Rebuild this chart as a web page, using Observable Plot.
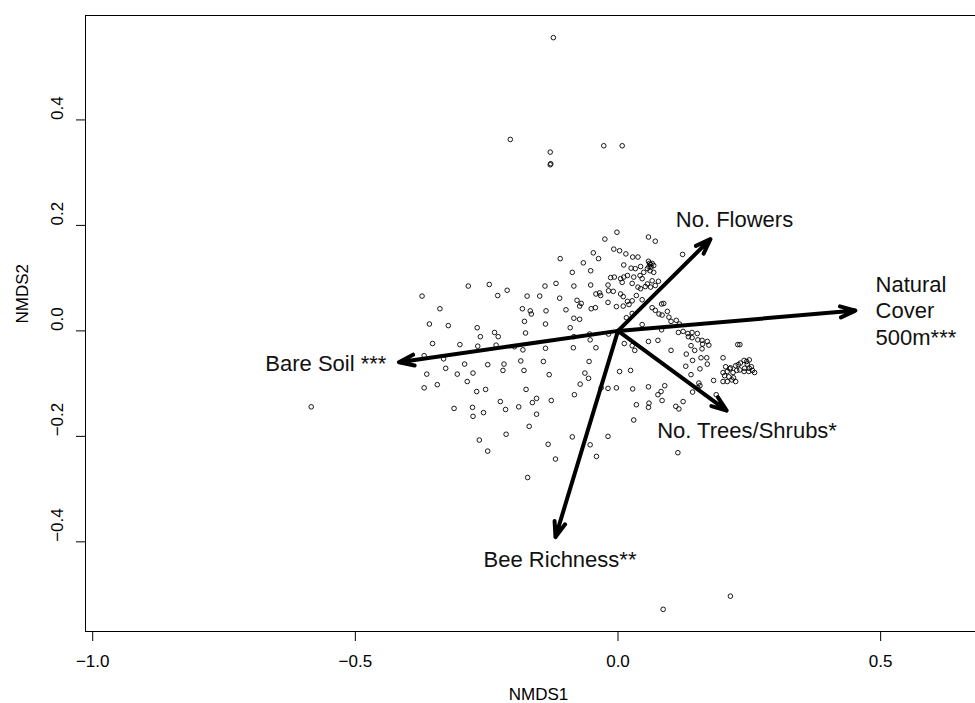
<!DOCTYPE html>
<html><head><meta charset="utf-8">
<script src="https://cdn.jsdelivr.net/npm/d3@7"></script>
<script src="https://cdn.jsdelivr.net/npm/@observablehq/plot@0.6"></script>
<style>
html,body{margin:0;padding:0;background:#fff;}
#chart svg{display:block;}
</style></head><body><div id="chart"></div>
<script>
// Axis settings
const xDomain = [-1.0137, 0.6806];
const yDomain = [-0.570, 0.598];
const xTicks = [-1, -0.5, 0, 0.5];
const yTicks = [-0.4, -0.2, 0, 0.2, 0.4];
const xTitle = "NMDS1";
const yTitle = "NMDS2";

// Site scores (NMDS1, NMDS2)
const sitesWest = [
[-0.373,0.066],[-0.285,0.085],[-0.245,0.088],[-0.229,0.067],[-0.211,0.077],[-0.339,0.042],[-0.359,0.013],[-0.323,0.010],
[-0.353,-0.024],[-0.369,-0.047],[-0.332,-0.053],[-0.301,-0.026],[-0.268,0.006],[-0.262,-0.011],[-0.267,-0.029],[-0.235,-0.003],
[-0.228,-0.011],[-0.232,-0.027],[-0.328,-0.071],[-0.364,-0.082],[-0.369,-0.108],[-0.344,-0.102],[-0.306,-0.082],[-0.292,-0.063],
[-0.276,-0.080],[-0.287,-0.096],[-0.248,-0.064],[-0.217,-0.063],[-0.219,-0.075],[-0.269,-0.115],[-0.252,-0.111],[-0.312,-0.147],
[-0.277,-0.145],[-0.276,-0.162],[-0.256,-0.155],[-0.224,-0.134],[-0.214,-0.149],[-0.189,-0.144],[-0.163,-0.136],[-0.155,-0.128],
[-0.175,-0.111],[-0.127,-0.132],[-0.155,-0.158],[-0.169,-0.181],[-0.213,-0.196],[-0.264,-0.207],[-0.248,-0.228],[-0.133,-0.215],
[-0.119,-0.243],[-0.087,-0.201],[-0.053,-0.216],[-0.041,-0.238],[-0.072,-0.101],[-0.083,-0.121],[-0.063,-0.080],[-0.056,-0.090],
[-0.055,-0.058],[-0.185,-0.057],[-0.179,-0.075],[-0.142,-0.058],[-0.131,-0.083],[-0.197,-0.030],[-0.181,-0.036],[-0.138,-0.033],
[-0.085,-0.032],[-0.042,-0.032],[-0.176,-0.004],[-0.178,0.018],[-0.138,0.013],[-0.091,0.006],[-0.084,0.024],[-0.073,0.022],
[-0.099,0.040],[-0.137,0.038],[-0.182,0.042],[-0.167,0.038],[-0.165,0.032],[-0.173,0.066],[-0.149,0.066],[-0.111,0.062],
[-0.139,0.085],[-0.118,0.090],[-0.084,0.085],[-0.052,0.087],[-0.078,0.058],[-0.070,0.052],[-0.073,0.047],[-0.051,0.042],
[-0.043,0.044],[-0.042,0.070],[-0.035,0.072],[-0.054,-0.006],[-0.053,-0.017],[-0.084,-0.011],[-0.172,-0.278],[-0.032,-0.108],
[-0.066,0.129],[-0.047,0.148],[-0.087,0.111],[-0.110,0.137],[-0.052,0.114],[-0.037,0.137]
];
const sitesUpper = [
[-0.002,0.187],[-0.025,0.174],[0.058,0.178],[0.071,0.170],[-0.008,0.155],[0.003,0.152],[0.015,0.146],[0.028,0.140],
[0.038,0.140],[0.123,0.145],[0.011,0.125],[0.058,0.132],[0.060,0.128],[0.062,0.126],[0.059,0.122],[0.056,0.118],
[0.061,0.114],[0.063,0.121],[0.065,0.128],[0.025,0.119],[0.033,0.118],[0.043,0.122],[0.068,0.124],[0.049,0.111],
[0.042,0.105],[-0.014,0.101],[-0.007,0.102],[0.011,0.102],[0.018,0.105],[0.005,0.099],[0.030,0.102],[0.046,0.099],
[0.068,0.111],[0.077,0.094],[0.065,0.095],[0.056,0.089],[-0.019,0.087],[0.008,0.092],[0.027,0.090],[0.038,0.083],
[0.043,0.080],[0.052,0.084],[0.062,0.083],[0.071,0.086],[-0.018,0.076],[-0.009,0.075],[0.005,0.070],[0.010,0.065],
[0.035,0.067],[0.046,0.059],[-0.033,0.067],[0.018,0.056],[0.027,0.057]
];
const sitesEast = [
[-0.019,0.054],[-0.003,0.046],[0.010,0.047],[0.021,0.050],[0.065,0.044],[0.071,0.039],[0.078,0.032],[0.084,0.030],
[0.083,0.051],[0.087,0.052],[0.094,0.037],[0.097,0.026],[0.101,0.018],[0.111,0.020],[0.117,0.013],[0.016,0.025],
[0.027,0.033],[0.046,0.012],[0.083,0.002],[0.115,-0.003],[0.124,-0.001],[0.133,-0.005],[0.141,-0.003],[0.151,-0.005],
[0.134,-0.011],[0.141,-0.013],[0.152,-0.017],[0.160,-0.018],[0.170,-0.020],[0.161,-0.025],[0.173,-0.027],[0.139,-0.028],
[0.146,-0.037],[0.160,-0.034],[0.130,-0.044],[0.142,-0.056],[0.158,-0.051],[0.169,-0.051],[0.170,-0.063],[0.156,-0.072],
[0.101,-0.037],[0.058,-0.020],[0.076,-0.018],[0.012,-0.024],[0.027,-0.028],[0.032,-0.037],[0.129,-0.067],[0.139,-0.083],
[-0.018,-0.006],[0.003,-0.077],[0.024,-0.075],[-0.019,-0.109],[-0.003,-0.108],[0.028,-0.110],[0.058,-0.106],[0.089,-0.104],
[0.082,-0.115],[0.076,-0.121],[0.084,-0.132],[0.035,-0.140],[0.059,-0.137],[0.058,-0.145],[0.110,-0.143],[0.116,-0.148],
[0.124,-0.134],[0.142,-0.116],[0.154,-0.099],[0.156,-0.104],[0.152,-0.108],[0.182,-0.094],[0.187,-0.121],[0.200,-0.051],
[0.228,-0.026],[0.232,-0.026],[0.030,-0.169],[-0.019,-0.200],[0.114,-0.231]
];
const sitesCluster = [
[0.205,-0.068],[0.214,-0.070],[0.224,-0.066],[0.229,-0.064],[0.233,-0.061],[0.240,-0.056],[0.245,-0.058],[0.250,-0.055],
[0.246,-0.063],[0.254,-0.068],[0.260,-0.079],[0.256,-0.075],[0.249,-0.077],[0.240,-0.077],[0.232,-0.074],[0.226,-0.075],
[0.219,-0.079],[0.208,-0.077],[0.200,-0.079],[0.203,-0.085],[0.211,-0.087],[0.220,-0.089],[0.217,-0.093],[0.224,-0.096],
[0.208,-0.096],[0.200,-0.096],[0.213,-0.072],[0.241,-0.071],[0.250,-0.071]
];
const sitesOutlying = [
[-0.584,-0.144],[-0.123,0.556],[-0.205,0.363],[-0.129,0.339],[-0.129,0.315],[-0.128,0.317],[-0.027,0.351],[0.008,0.351],
[0.086,-0.528],[0.214,-0.503]
];

// Fitted environmental vectors
const vectorNames = ["No. Flowers", "Natural Cover 500m", "Bare Soil", "No. Trees/Shrubs", "Bee Richness"];
const vectorX = [0.176, 0.452, -0.417, 0.207, -0.119];
const vectorY = [0.174, 0.0385, -0.0595, -0.151, -0.391];

// Vector labels (placed in NMDS units)
const labelText = ["No. Flowers", "Natural\nCover\n500m***", "Bare Soil ***", "No. Trees/Shrubs*", "Bee Richness**"];
const labelX = [0.2218, 0.4903, -0.4408, 0.0746, 0.0352];
const labelY = [0.2124, 0.0398, -0.0595, -0.1871, -0.4323];
const labelAlign = ["middle", "start", "end", "start", "end"];

const sites = [...sitesWest, ...sitesUpper, ...sitesEast, ...sitesCluster, ...sitesOutlying]
  .map(([x, y]) => ({x, y}));
const vectors = vectorNames.map((name, i) => ({name, x: vectorX[i], y: vectorY[i]}));
const labels = labelText.map((text, i) => ({text, x: labelX[i], y: labelY[i], align: labelAlign[i]}));

const fmt = d => d.toFixed(1).replace("-", "\u2212");
const FONT = "'Liberation Sans', Arial, Helvetica, sans-serif";

const labelMarks = ["start", "middle", "end"].map(a =>
  Plot.text(labels.filter(d => d.align === a), {
    x: "x", y: "y", text: "text", textAnchor: a, lineAnchor: "middle",
    fontSize: 22, lineHeight: 1.21, fill: "#111"
  })
);

const chart = Plot.plot({
  width: 975,
  height: 703,
  marginLeft: 85,
  marginRight: 0,
  marginTop: 15,
  marginBottom: 72,
  x: {domain: xDomain, label: null},
  y: {domain: yDomain, label: null},
  style: {fontFamily: FONT, fontSize: "17px", background: "white", color: "black"},
  marks: [
    Plot.ruleY([yDomain[1], yDomain[0]], {stroke: "black", strokeWidth: 1}),
    Plot.ruleX([xDomain[0]], {stroke: "black", strokeWidth: 1}),
    Plot.axisX({ticks: xTicks, tickSize: 10, tickPadding: 13, tickFormat: fmt, fontSize: 17, label: null}),
    Plot.axisY({ticks: yTicks, tickSize: 9, tickFormat: () => "", label: null}),
    Plot.text(yTicks, {y: d => d, text: fmt, frameAnchor: "left", dx: -28, rotate: -90, lineAnchor: "middle", fontSize: 17}),
    Plot.dot(sites, {x: "x", y: "y", r: 2.3, stroke: "black", strokeWidth: 0.9, fill: "none"}),
    Plot.arrow(vectors, {x1: () => 0, y1: () => 0, x2: "x", y2: "y", stroke: "black", strokeWidth: 4, headLength: 6, headAngle: 40}),
    ...labelMarks,
    Plot.text([xTitle], {text: d => d, frameAnchor: "bottom", dx: 8, dy: 63, lineAnchor: "middle", fontSize: 17}),
    Plot.text([yTitle], {text: d => d, frameAnchor: "left", dx: -63, rotate: -90, lineAnchor: "middle", fontSize: 17})
  ]
});
document.getElementById("chart").appendChild(chart);
</script>
</body></html>
